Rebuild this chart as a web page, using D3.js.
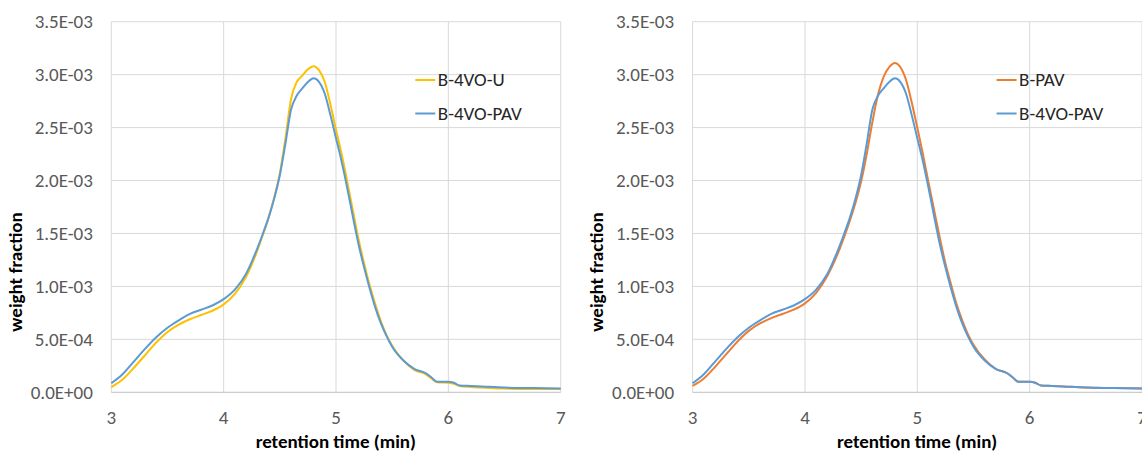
<!DOCTYPE html>
<html>
<head>
<meta charset="utf-8">
<script src="https://cdn.jsdelivr.net/npm/d3@7/dist/d3.min.js"></script>
<style>
  html, body { margin: 0; padding: 0; background: #ffffff; }
  svg { display: block; font-family: Carlito, Lato, "Liberation Sans", sans-serif; }
</style>
</head>
<body>
<svg id="chart" width="1142" height="452"></svg>
<script>
// ---- data (weight fraction, x1e-3) ----
const retentionTime = [3.0,3.1,3.2,3.3,3.4,3.5,3.6,3.7,3.8,3.9,4.0,4.1,4.2,4.3,4.35,4.4,4.45,4.5,
  4.55,4.6,4.65,4.7,4.75,4.8,4.85,4.9,4.95,5.0,5.05,5.1,5.15,5.2,5.25,5.3,5.35,5.4,5.45,5.5,
  5.6,5.7,5.8,5.85,5.9,6.0,6.05,6.1,6.2,6.3,6.5,6.75,7.0];

const b4voPAV = [.085,.17,.29,.41,.52,.61,.68,.74,.78,.82,.88,.97,1.12,1.36,1.50,1.65,1.83,2.05,
  2.35,2.67,2.80,2.87,2.93,2.965,2.93,2.82,2.62,2.40,2.18,1.93,1.66,1.40,1.18,0.98,0.80,0.65,0.53,0.43,
  .30,.22,.18,.14,.10,.10,.09,.065,.06,.055,.045,.04,.035];

const b4voU = [.05,.12,.23,.35,.47,.57,.64,.69,.73,.77,.83,.93,1.09,1.34,1.49,1.65,1.84,2.07,
  2.40,2.77,2.93,2.99,3.05,3.08,3.04,2.93,2.72,2.48,2.25,1.99,1.72,1.45,1.22,1.01,0.83,0.67,0.54,0.44,
  .30,.21,.17,.13,.095,.09,.08,.06,.05,.045,.035,.03,.03];

const bPAV = [.06,.13,.24,.36,.48,.58,.65,.70,.74,.78,.84,.94,1.10,1.33,1.47,1.62,1.79,1.99,
  2.25,2.55,2.81,2.98,3.07,3.11,3.07,2.95,2.74,2.50,2.25,1.98,1.72,1.46,1.22,1.02,0.83,0.68,0.55,0.45,
  .31,.22,.18,.14,.10,.10,.09,.065,.06,.055,.045,.04,.035];

const xTicks = [3, 4, 5, 6, 7];
const yTicks = [0, 0.5e-3, 1.0e-3, 1.5e-3, 2.0e-3, 2.5e-3, 3.0e-3, 3.5e-3];
const yTickLabels = ["0.0E+00","5.0E-04","1.0E-03","1.5E-03","2.0E-03","2.5E-03","3.0E-03","3.5E-03"];

const panels = [
  { left: 111.3, series: [
      { name: "B-4VO-U", values: b4voU, color: "#FFC000" },
      { name: "B-4VO-PAV", values: b4voPAV, color: "#5B9BD5" } ] },
  { left: 692.6, series: [
      { name: "B-PAV", values: bPAV, color: "#ED7D31" },
      { name: "B-4VO-PAV", values: b4voPAV, color: "#5B9BD5" } ] }
];

const svg = d3.select("#chart");
const plotW = 449.4, plotTop = 21.7, plotBottom = 392.3;
const fs = 19;

panels.forEach(p => {
  const x = d3.scaleLinear().domain([3, 7]).range([p.left, p.left + plotW]);
  const y = d3.scaleLinear().domain([0, 3.5e-3]).range([plotBottom, plotTop]);
  const g = svg.append("g");

  // horizontal gridlines
  g.selectAll(".hg").data(yTicks.slice(1)).enter().append("line")
    .attr("x1", x(3)).attr("x2", x(7))
    .attr("y1", d => y(d)).attr("y2", d => y(d))
    .attr("stroke", "#d9d9d9").attr("stroke-width", 1);
  // vertical gridlines
  g.selectAll(".vg").data(xTicks).enter().append("line")
    .attr("x1", d => x(d)).attr("x2", d => x(d))
    .attr("y1", plotTop).attr("y2", plotBottom)
    .attr("stroke", "#d9d9d9").attr("stroke-width", 1);
  // x axis line
  g.append("line").attr("x1", x(3)).attr("x2", x(7))
    .attr("y1", plotBottom).attr("y2", plotBottom)
    .attr("stroke", "#bfbfbf").attr("stroke-width", 1);

  // y tick labels
  g.selectAll(".yl").data(yTicks).enter().append("text")
    .attr("x", p.left - 18.5).attr("y", d => y(d) + 6.3)
    .attr("text-anchor", "end")
    .attr("font-size", fs).attr("fill", "#595959")
    .text((d, i) => yTickLabels[i]);
  // x tick labels
  g.selectAll(".xl").data(xTicks).enter().append("text")
    .attr("x", d => x(d)).attr("y", 423.5)
    .attr("text-anchor", "middle")
    .attr("font-size", fs).attr("fill", "#595959")
    .text(d => d);

  // axis titles
  g.append("text")
    .attr("transform", `translate(${p.left - 89.5},272) rotate(-90)`)
    .attr("text-anchor", "middle")
    .attr("font-size", fs).attr("font-weight", "bold").attr("fill", "#000")
    .text("weight fraction");
  g.append("text")
    .attr("x", p.left + 224.5).attr("y", 447.5)
    .attr("text-anchor", "middle")
    .attr("font-size", fs).attr("font-weight", "bold").attr("fill", "#000")
    .text("retention time (min)");

  // series lines
  const line = d3.line()
    .x((d, i) => x(retentionTime[i]))
    .y(d => y(d * 1e-3))
    .curve(d3.curveMonotoneX);
  p.series.forEach(s => {
    g.append("path").datum(s.values)
      .attr("d", line).attr("fill", "none")
      .attr("stroke", s.color).attr("stroke-width", 2)
      .attr("stroke-linejoin", "round");
  });

  // legend
  p.series.forEach((s, i) => {
    const ly = 80 + i * 33.5;
    const lx = p.left + 304;
    g.append("line").attr("x1", lx).attr("x2", lx + 20)
      .attr("y1", ly).attr("y2", ly)
      .attr("stroke", s.color).attr("stroke-width", 2);
    g.append("text").attr("x", lx + 22.5).attr("y", ly + 6.3)
      .attr("font-size", fs).attr("fill", "#262626").text(s.name);
  });
});
</script>
</body>
</html>
